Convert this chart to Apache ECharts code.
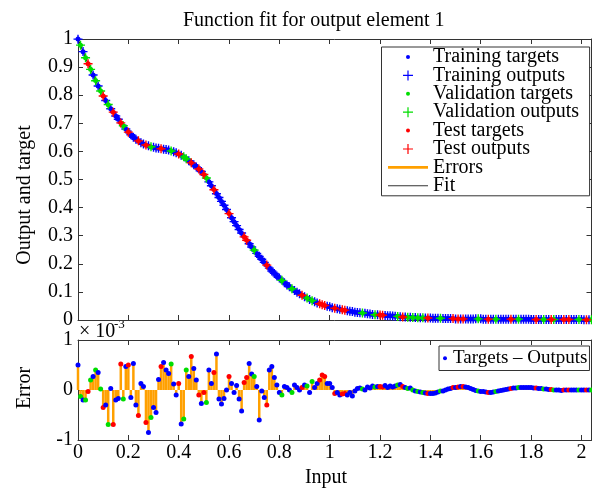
<!DOCTYPE html>
<html><head><meta charset="utf-8">
<script src="https://cdn.jsdelivr.net/npm/echarts@6/dist/echarts.min.js"></script>
<style>html,body{margin:0;padding:0;background:#fff;}#chart{width:592px;height:488px;}</style>
</head><body><div id="chart"></div>
<script>
// ---------------- data ----------------
const INPUT_STEP = 0.01;          // inputs are sampled every 0.01 from 0 to 2.04
const X_MAX = 2.04;
const targets = [
1.000,0.978,0.955,0.933,0.912,0.892,0.872,0.852,0.833,0.815,
0.797,0.781,0.766,0.752,0.739,0.726,0.714,0.702,0.691,0.680,
0.669,0.659,0.651,0.643,0.637,0.631,0.626,0.622,0.619,0.616,
0.614,0.612,0.611,0.610,0.608,0.607,0.605,0.602,0.599,0.595,
0.591,0.586,0.580,0.574,0.567,0.560,0.553,0.545,0.537,0.528,
0.518,0.505,0.492,0.478,0.464,0.450,0.436,0.422,0.408,0.393,
0.379,0.364,0.350,0.336,0.322,0.309,0.296,0.284,0.272,0.260,
0.249,0.237,0.226,0.216,0.205,0.195,0.185,0.175,0.166,0.157,
0.149,0.141,0.133,0.125,0.118,0.111,0.105,0.099,0.093,0.088,
0.083,0.078,0.073,0.069,0.065,0.061,0.058,0.055,0.052,0.049,
0.047,0.044,0.042,0.040,0.038,0.036,0.035,0.033,0.031,0.030,
0.028,0.027,0.026,0.025,0.024,0.022,0.021,0.020,0.019,0.019,
0.018,0.017,0.016,0.015,0.015,0.014,0.013,0.013,0.012,0.011,
0.011,0.010,0.010,0.009,0.009,0.008,0.008,0.008,0.007,0.007,
0.007,0.006,0.006,0.006,0.006,0.005,0.005,0.005,0.005,0.005,
0.004,0.004,0.004,0.004,0.004,0.004,0.004,0.004,0.004,0.004,
0.004,0.003,0.003,0.003,0.003,0.003,0.003,0.003,0.003,0.003,
0.003,0.003,0.003,0.003,0.003,0.003,0.003,0.003,0.003,0.003,
0.002,0.002,0.002,0.002,0.002,0.002,0.002,0.002,0.002,0.002,
0.002,0.002,0.002,0.002,0.002,0.002,0.002,0.002,0.002,0.002,
0.002,0.001,0.001,0.001,0.001
];
// errors = targets - outputs, in units of 1e-3
const errorsE3 = [
0.50,-0.13,-0.20,-0.20,-0.03,0.20,0.27,0.40,0.35,0.02,
-0.35,-0.30,-0.69,0.03,-0.69,-0.20,-0.17,0.52,-0.18,0.47,
0.50,-0.15,0.53,-0.30,-0.51,0.13,0.07,-0.65,-0.85,-0.55,
-0.35,-0.45,0.21,0.47,0.55,0.40,0.33,0.52,0.12,-0.10,
0.13,-0.68,-0.58,0.40,0.27,0.67,0.43,0.20,-0.10,-0.27,
-0.05,-0.25,0.40,0.13,0.35,0.72,-0.18,-0.28,-0.17,0.00,
0.27,0.13,-0.05,0.09,-0.18,-0.42,0.15,0.25,0.53,0.32,
0.27,0.07,-0.60,-0.02,-0.15,-0.30,0.40,0.47,0.25,0.10,
-0.05,-0.10,0.07,0.05,0.00,-0.05,0.10,0.05,0.00,0.05,
0.10,0.08,-0.05,0.17,0.05,0.13,0.20,0.30,0.27,0.13,
0.13,0.05,-0.07,-0.05,-0.10,-0.08,-0.07,-0.10,-0.05,-0.12,
-0.02,0.03,0.04,0.02,0.00,0.06,0.04,0.08,0.06,0.07,
0.07,0.06,0.09,0.05,0.08,0.06,0.08,0.10,0.11,0.07,
0.05,0.03,0.04,0.00,-0.02,-0.03,-0.04,-0.05,-0.06,-0.07,
-0.07,-0.07,-0.06,-0.04,-0.02,-0.02,0.00,0.02,0.03,0.05,
0.05,0.06,0.07,0.07,0.06,0.05,0.03,0.01,-0.01,-0.02,
-0.03,-0.03,-0.04,-0.05,-0.05,-0.04,-0.03,-0.02,-0.01,0.00,
0.01,0.02,0.03,0.04,0.04,0.05,0.05,0.05,0.05,0.05,
0.05,0.04,0.04,0.03,0.03,0.02,0.02,0.01,0.01,0.00,
0.00,0.00,-0.01,0.00,0.00,0.00,0.00,0.00,0.00,0.00,
0.00,0.00,0.00,0.00,0.00
];
// data split per sample: b = training, g = validation, r = test
const splitCodes = [
'bgbgrgbgbg','rbgbrbbrgb','rbbbrbbrbg','bbbrbbbgbb','rbggbrbbrb',
'rgbbrbbbbb','rbbbbbrrbb','gbbbbrbbbb','bgbbbgbbbr','bgbgbbrrrb',
'bbrbbrrbbb','bbbgbbbbgb','rrbbbbbgbr','bgbgbgbgbr','bbbbgbbbbr',
'brbrbbbbbg','bbbrbbgbbb','bbrbbgbbbb','bbrbbgbbrg','bbbrbrbbbg','bbrbg'
].join('');
const splitNames  = {b: 'Training', g: 'Validation', r: 'Test'};
const splitColors = {b: '#0000ff', g: '#00dd00', r: '#ff0000'};
const errorColor = '#ffa000';
const titleText = 'Function fit for output element 1';

// ---------------- derived ----------------
const inputs = targets.map((_, i) => Math.round(i * INPUT_STEP * 100) / 100);
const outputs = targets.map((t, i) => t - errorsE3[i] / 1000);
const FONT = '"Liberation Serif", "Times New Roman", serif';
const AX = '#333';
const PLUS = 'path://M0,3.8h9v1.4h-9zM3.8,0h1.4v9h-1.4z';
const ICON_DOT = 'path://M0,0M40,14M18,7a2,2 0 1,0 4,0a2,2 0 1,0 -4,0z';
const ICON_PLUS = 'path://M0,0M40,14M15,6.4h10v1.2h-10zM19.4,2h1.2v10h-1.2z';
const ICON_ERR = 'path://M0,0M40,14M0,5.6h40v2.8h-40z';
const ICON_FIT = 'path://M0,0M40,14M0,6.5h40v1h-40z';
const ICON_DOT_SMALL = 'path://M0,0M6,14M1,7a2,2 0 1,0 4,0a2,2 0 1,0 -4,0z';

function pick(code, arr) {
  const out = [];
  for (let i = 0; i < inputs.length; i++) if (splitCodes[i] === code) out.push([inputs[i], arr[i]]);
  return out;
}
function fmtX(v) {
  const r = Math.round(v * 10) / 10;
  if (Math.abs(v - r) > 1e-6 || Math.round(v * 10) % 2 !== 0) return '';
  return String(r);
}
function xAx(grid, pos, labels) {
  return {type: 'value', gridIndex: grid, position: pos, min: 0, max: X_MAX, interval: 0.2,
    axisLine: {show: true, onZero: false, lineStyle: {color: AX, width: 1}},
    axisTick: {show: true, inside: true, length: 5, lineStyle: {color: AX}},
    axisLabel: {show: labels, margin: 3, color: '#000', fontSize: 20, fontFamily: FONT, lineHeight: 20, formatter: fmtX},
    splitLine: {show: false}};
}
function yAx(grid, pos, labels, min, max, interval, fmt) {
  return {type: 'value', gridIndex: grid, position: pos, min: min, max: max, interval: interval,
    axisLine: {show: true, onZero: false, lineStyle: {color: AX, width: 1}},
    axisTick: {show: true, inside: true, length: 5, lineStyle: {color: AX}},
    axisLabel: {show: labels, margin: 5, color: '#000', fontSize: 20, fontFamily: FONT, lineHeight: 20, formatter: fmt},
    splitLine: {show: false}};
}

const series = [];
series.push({name: 'Fit', type: 'line', xAxisIndex: 0, yAxisIndex: 0, z: 1,
  data: inputs.map((x, i) => [x, outputs[i]]), symbol: 'none', showSymbol: false,
  lineStyle: {color: '#000', width: 1}, itemStyle: {color: '#000'}});
['b', 'g', 'r'].forEach(code => {
  series.push({name: splitNames[code] + ' targets', type: 'scatter', xAxisIndex: 0, yAxisIndex: 0, z: 2,
    data: pick(code, targets), symbol: 'circle', symbolSize: 5, itemStyle: {color: splitColors[code], opacity: 1}});
  series.push({name: splitNames[code] + ' outputs', type: 'scatter', xAxisIndex: 0, yAxisIndex: 0, z: 2,
    data: pick(code, outputs), symbol: PLUS, symbolSize: 9, itemStyle: {color: splitColors[code], opacity: 1}});
});
series.push({name: 'Errors', type: 'bar', xAxisIndex: 2, yAxisIndex: 2, z: 1, barWidth: 2.5,
  data: inputs.map((x, i) => [x, errorsE3[i]]), itemStyle: {color: errorColor}});
series.push({name: 'Targets \u2013 Outputs', type: 'scatter', xAxisIndex: 2, yAxisIndex: 2, z: 3,
  symbol: 'circle', symbolSize: 5, itemStyle: {color: splitColors.b, opacity: 1},
  data: inputs.map((x, i) => ({value: [x, errorsE3[i]], itemStyle: {color: splitColors[splitCodes[i]]}}))});

const legendItems = [];
['b', 'g', 'r'].forEach(code => {
  legendItems.push({name: splitNames[code] + ' targets', icon: ICON_DOT, itemStyle: {color: splitColors[code], borderWidth: 0}});
  legendItems.push({name: splitNames[code] + ' outputs', icon: ICON_PLUS, itemStyle: {color: splitColors[code], borderWidth: 0}});
});
legendItems.push({name: 'Errors', icon: ICON_ERR, itemStyle: {color: errorColor, borderWidth: 0}});
legendItems.push({name: 'Fit', icon: ICON_FIT, itemStyle: {color: '#333', borderWidth: 0}});

const chart = echarts.init(document.getElementById('chart'), null, {renderer: 'canvas'});
chart.setOption({
  animation: false,
  backgroundColor: '#fff',
  textStyle: {fontFamily: FONT},
  title: {text: titleText, left: 183, top: 11, padding: 0,
    textStyle: {fontFamily: FONT, fontSize: 20, fontWeight: 'normal', color: '#000', lineHeight: 20}},
  grid: [
    {left: 78, top: 39, width: 513.5, height: 281, containLabel: false, outerBoundsMode: 'none'},
    {left: 78, top: 340, width: 513.5, height: 100, containLabel: false, outerBoundsMode: 'none'}
  ],
  xAxis: [xAx(0, 'bottom', false), xAx(0, 'top', false), xAx(1, 'bottom', true), xAx(1, 'top', false)],
  yAxis: [
    yAx(0, 'left', true, 0, 1, 0.1, v => String(Math.round(v * 10) / 10)),
    yAx(0, 'right', false, 0, 1, 0.1, null),
    yAx(1, 'left', true, -1, 1, 1, v => String(Math.round(v))),
    yAx(1, 'right', false, -1, 1, 1, null)
  ],
  legend: [
    {data: legendItems, orient: 'vertical', left: 381.5, top: 47, padding: [0, 10.5, 0, 6.5],
     itemWidth: 40, itemHeight: 14, itemGap: -1.6, selectedMode: false,
     borderColor: AX, borderWidth: 1, backgroundColor: '#fff', itemStyle: {borderWidth: 0},
     textStyle: {fontFamily: FONT, fontSize: 20, color: '#000', lineHeight: 18.4}},
    {data: [{name: 'Targets \u2013 Outputs', icon: ICON_DOT_SMALL, itemStyle: {color: splitColors.b, borderWidth: 0}}],
     orient: 'vertical', left: 439, top: 346, padding: [2, 2, 2, 3],
     itemWidth: 6, itemHeight: 14, itemGap: 0, selectedMode: false,
     borderColor: AX, borderWidth: 1, backgroundColor: '#fff', itemStyle: {borderWidth: 0},
     textStyle: {fontFamily: FONT, fontSize: 19, color: '#000', lineHeight: 20.5}}
  ],
  graphic: [
    {type: 'text', x: 25, y: 195, rotation: Math.PI / 2,
     style: {text: 'Output and target', fontSize: 20, fontFamily: FONT, fill: '#000', align: 'center', verticalAlign: 'middle', textAlign: 'center', textVerticalAlign: 'middle'}},
    {type: 'text', x: 25, y: 388, rotation: Math.PI / 2,
     style: {text: 'Error', fontSize: 20, fontFamily: FONT, fill: '#000', align: 'center', verticalAlign: 'middle', textAlign: 'center', textVerticalAlign: 'middle'}},
    {type: 'text', x: 326, y: 478,
     style: {text: 'Input', fontSize: 20, fontFamily: FONT, fill: '#000', align: 'center', verticalAlign: 'middle', textAlign: 'center', textVerticalAlign: 'middle'}},
    {type: 'text', x: 79, y: 332,
     style: {text: '\u00d7 10', fontSize: 20, fontFamily: FONT, fill: '#000', align: 'left', verticalAlign: 'middle', textAlign: 'left', textVerticalAlign: 'middle'}},
    {type: 'text', x: 114, y: 325,
     style: {text: '-3', fontSize: 13, fontFamily: FONT, fill: '#000', align: 'left', verticalAlign: 'middle', textAlign: 'left', textVerticalAlign: 'middle'}}
  ],
  series: series
});
</script></body></html>
